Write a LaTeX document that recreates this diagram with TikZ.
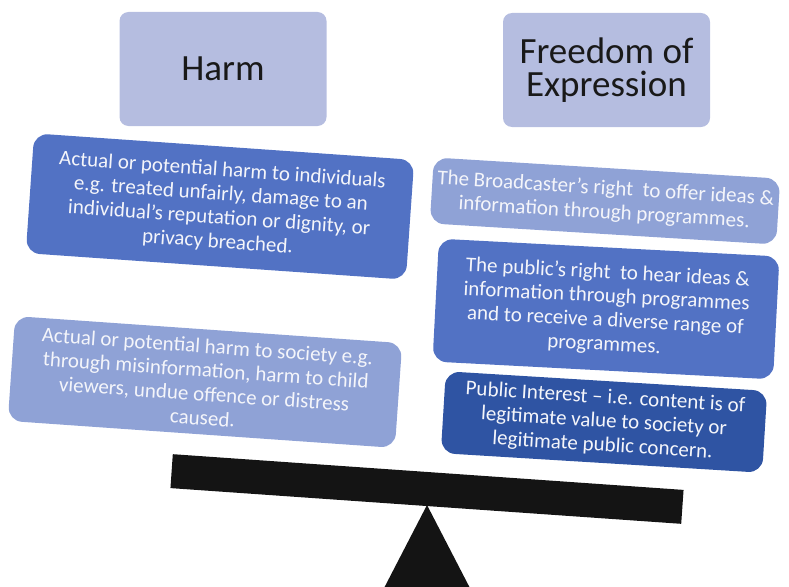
\documentclass[tikz,border=0pt]{standalone}
\usepackage{fontspec}
\setmainfont{Carlito}
\usetikzlibrary{positioning}
\definecolor{titlefill}{RGB}{181,189,224}
\definecolor{midblue}{RGB}{82,114,196}
\definecolor{lightblue}{RGB}{143,162,214}
\definecolor{darkblue}{RGB}{47,84,163}
\definecolor{boxtext}{RGB}{244,245,250}

\begin{document}
\begin{tikzpicture}[x=1pt,y=-1pt,
	titlebox/.style={fill=titlefill,rounded corners=9pt,minimum width=207pt,minimum height=114pt,
		align=center,font=\fontsize{37}{33}\selectfont,text=black!90},
	pointbox/.style={rounded corners=14pt,align=center,inner sep=0pt,
		font=\fontsize{21}{24}\selectfont,text=boxtext}]
	\useasboundingbox (0,0) rectangle (789,586);
	\node[titlebox]  (harm)    at (223,69)   {Harm};
	\node[titlebox]  (freedom) at (606.5,70) {Freedom of\\Expression};
	\tikzset{every node/.append style={rotate=-4}}
	\node[pointbox,fill=midblue,minimum width=381pt,minimum height=120pt]   (indiv)    at (220,206.5)
		{Actual or potential harm to individuals\\e.g. treated unfairly, damage to an\\individual’s reputation or dignity, or\\privacy breached.};
	\node[pointbox,fill=lightblue,minimum width=388pt,minimum height=105pt] (society)  at (205,382)
		{Actual or potential harm to society e.g.\\through misinformation, harm to child\\viewers, undue offence or distress\\caused.};
	\node[pointbox,fill=lightblue,minimum width=347pt,minimum height=66pt]  (broadcast) at (605,201) [rotate=0.5]
		{The Broadcaster’s right\ \ to offer ideas \&\\information through programmes.};
	\node[pointbox,fill=midblue,minimum width=341pt,minimum height=123pt]   (public)   at (606,309) [rotate=1]
		{The public’s right\ \ to hear ideas \&\\information through programmes\\and to receive a diverse range of\\programmes.};
	\node[pointbox,fill=darkblue,minimum width=322pt,minimum height=82pt]   (interest) at (604,422) [rotate=0.5]
		{Public Interest – i.e. content is of\\legitimate value to society or\\legitimate public concern.};
	\node[fill=black!92,minimum width=512pt,minimum height=34pt,inner sep=0pt] (beam) at (427,489) {};
	\fill[black!92] (427,505) -- (382,592) -- (472,592) -- cycle;
\end{tikzpicture}
\end{document}
